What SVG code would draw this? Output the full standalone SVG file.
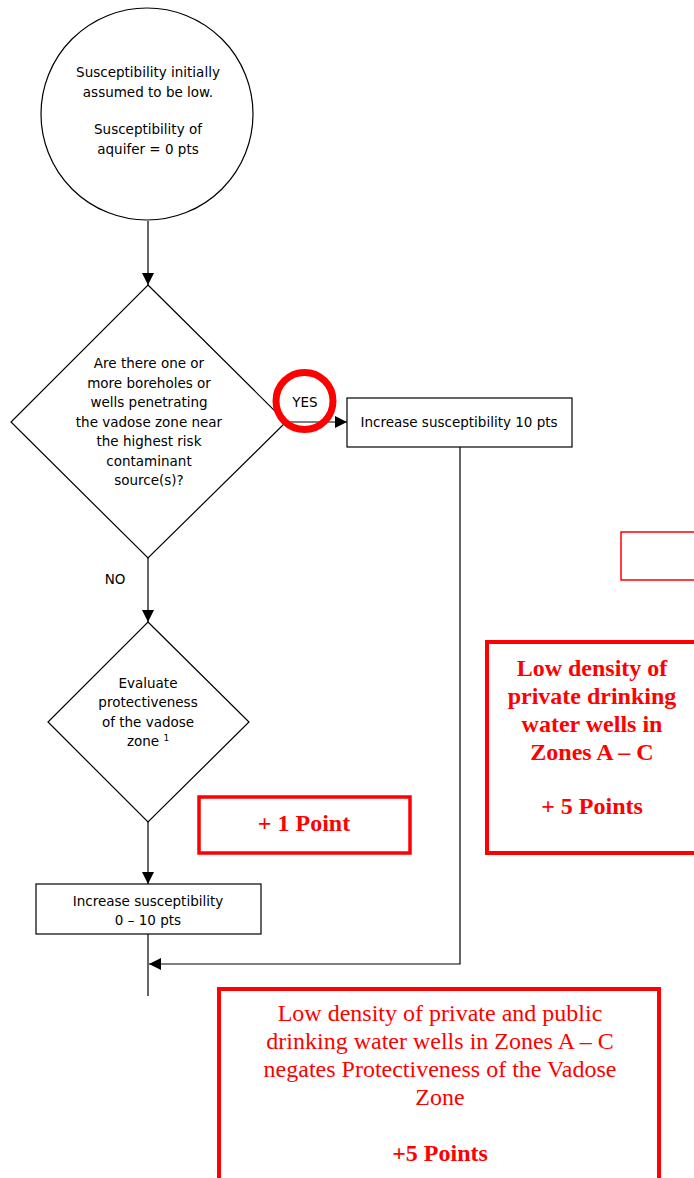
<svg xmlns="http://www.w3.org/2000/svg" width="694" height="1178" viewBox="0 0 694 1178">
  <style>
    .shape { fill: #fff; stroke: #000; stroke-width: 1.2; }
    .lbl { font-family: "DejaVu Sans", "Liberation Sans", sans-serif; font-size: 13.5px; fill: #000; text-anchor: middle; }
    .redbox { fill: none; stroke: #ff0000; }
    .rtxt { font-family: "Liberation Serif", "DejaVu Serif", serif; font-size: 24px; fill: #ff0000; text-anchor: middle; }
    .b { font-weight: bold; }
    .conn { fill: none; stroke: #000; stroke-width: 1.2; }
  </style>
  <defs>
    <marker id="arrow" viewBox="0 0 10 10" refX="10" refY="5" markerWidth="14" markerHeight="12" markerUnits="userSpaceOnUse" orient="auto">
      <path d="M0,0 L10,5 L0,10 z" fill="#000"/>
    </marker>
  </defs>

  <rect width="694" height="1178" fill="#fff"/>

  <!-- connectors -->
  <g id="connectors">
    <line class="conn" x1="148" y1="221" x2="148" y2="285" marker-end="url(#arrow)"/>
    <line class="conn" x1="286" y1="422" x2="347" y2="422" marker-end="url(#arrow)"/>
    <line class="conn" x1="148" y1="558" x2="148" y2="622" marker-end="url(#arrow)"/>
    <line class="conn" x1="148" y1="822" x2="148" y2="884" marker-end="url(#arrow)"/>
    <line class="conn" x1="148" y1="934" x2="148" y2="996"/>
    <polyline class="conn" points="460,447 460,964 149,964" marker-end="url(#arrow)"/>
    <text class="lbl" x="115" y="584">NO</text>
  </g>

  <g id="start">
    <circle class="shape" cx="147" cy="114" r="106"/>
    <text class="lbl" x="148" y="77">Susceptibility initially</text>
    <text class="lbl" x="148" y="97">assumed to be low.</text>
    <text class="lbl" x="148" y="134">Susceptibility of</text>
    <text class="lbl" x="148" y="154">aquifer = 0 pts</text>
  </g>

  <g id="boreholes">
    <polygon class="shape" points="148,285 286,422 148,558 11,422"/>
    <text class="lbl" x="149" y="368">Are there one or</text>
    <text class="lbl" x="149" y="388">more boreholes or</text>
    <text class="lbl" x="149" y="407">wells penetrating</text>
    <text class="lbl" x="149" y="427">the vadose zone near</text>
    <text class="lbl" x="149" y="446">the highest risk</text>
    <text class="lbl" x="149" y="466">contaminant</text>
    <text class="lbl" x="149" y="485">source(s)?</text>
  </g>

  <g id="yes">
    <text class="lbl" x="305" y="407">YES</text>
    <circle cx="304.5" cy="401" r="28.5" fill="none" stroke="#ff0000" stroke-width="7"/>
  </g>

  <g id="increase10">
    <rect class="shape" x="347" y="398" width="225" height="49"/>
    <text class="lbl" x="459" y="427">Increase susceptibility 10 pts</text>
  </g>

  <g id="vadose">
    <polygon class="shape" points="148,622 249,722 148,822 48,722"/>
    <text class="lbl" x="148" y="688">Evaluate</text>
    <text class="lbl" x="148" y="707">protectiveness</text>
    <text class="lbl" x="148" y="727">of the vadose</text>
    <text class="lbl" x="148" y="746">zone <tspan font-size="9" dy="-5">1</tspan></text>
  </g>

  <g id="increase0to10">
    <rect class="shape" x="36" y="884" width="225" height="50"/>
    <text class="lbl" x="148" y="906">Increase susceptibility</text>
    <text class="lbl" x="148" y="925">0 – 10 pts</text>
  </g>

  <g id="empty-note">
    <rect class="redbox" x="621" y="532" width="80" height="48" stroke-width="1.5"/>
  </g>

  <g id="private-wells">
    <rect class="redbox" x="487" y="642" width="212" height="211" stroke-width="4"/>
    <text class="rtxt b" x="592" y="676">Low density of</text>
    <text class="rtxt b" x="592" y="704">private drinking</text>
    <text class="rtxt b" x="592" y="732">water wells in</text>
    <text class="rtxt b" x="592" y="760">Zones A – C</text>
    <text class="rtxt b" x="592" y="814">+ 5 Points</text>
  </g>

  <g id="one-point">
    <rect class="redbox" x="199" y="797" width="211" height="56" stroke-width="3.5"/>
    <text class="rtxt b" x="304" y="831">+ 1 Point</text>
  </g>

  <g id="public-wells">
    <rect class="redbox" x="219" y="989" width="440" height="200" stroke-width="4"/>
    <text class="rtxt" x="440" y="1021">Low density of private and public</text>
    <text class="rtxt" x="440" y="1049">drinking water wells in Zones A – C</text>
    <text class="rtxt" x="440" y="1077">negates Protectiveness of the Vadose</text>
    <text class="rtxt" x="440" y="1105">Zone</text>
    <text class="rtxt b" x="440" y="1161">+5 Points</text>
  </g>
</svg>
